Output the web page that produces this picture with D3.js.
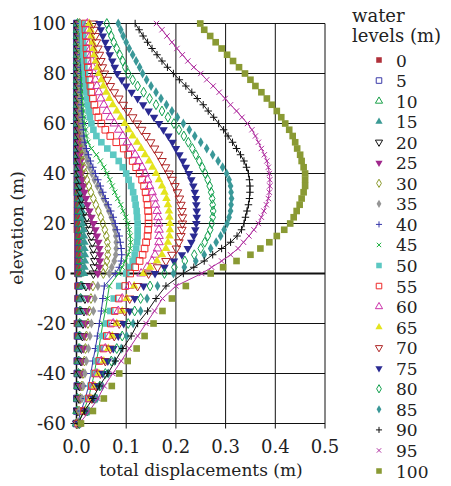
<!DOCTYPE html>
<html>
<head>
<meta charset="utf-8">
<script src="https://cdn.jsdelivr.net/npm/d3@7"></script>
<style>
  body { margin: 0; background: #fff; }
  text { font-family: "DejaVu Serif", serif; fill: #222; }
</style>
</head>
<body>
<div id="chart"></div>
<script>
// elevations (m): above ground every 2.5 m, below ground every 5 m
var elev = [100, 97.5, 95, 92.5, 90, 87.5, 85, 82.5, 80, 77.5,
  75, 72.5, 70, 67.5, 65, 62.5, 60, 57.5, 55, 52.5,
  50, 47.5, 45, 42.5, 40, 37.5, 35, 32.5, 30, 27.5,
  25, 22.5, 20, 17.5, 15, 12.5, 10, 7.5, 5, 2.5, 0,
  -5, -10, -15, -20, -25, -30, -35, -40, -45, -50, -55, -60]

var levels = [0, 5, 10, 15, 20, 25, 30, 35, 40, 45, 50, 55, 60, 65, 70, 75, 80, 85, 90, 95, 100]

// total displacements (m) for each water level, same order as elev
var w0 = [0,0,0,0,0,0,0,0,0,0, 0,0,0,0,0,0,0,0,0,0, 0,0,.001,.001,.001,.001,.001,.001,.001,.001,
  .001,.001,.001,.001,.002,.002,.002,.002,.002,.002,.002,
  .002,.002,.002,.001,.001,.001,.001,.001,.001,0,0,0]
var w5 = [.001,.001,.001,.001,.001,.001,.001,.001,.001,.001, .001,.001,.001,.001,.001,.001,.001,.001,.001,.001,
  .001,.001,.001,.002,.002,.002,.002,.002,.003,.003, .003,.003,.003,.004,.004,.004,.004,.004,.004,.004,.004,
  .005,.004,.004,.004,.003,.003,.002,.002,.002,.001,.001,0]
var w10 = [.002,.002,.002,.002,.002,.002,.002,.002,.002,.002, .002,.002,.002,.002,.002,.002,.002,.003,.003,.003,
  .003,.003,.003,.004,.004,.004,.005,.005,.005,.006, .006,.006,.007,.007,.007,.008,.008,.008,.008,.008,.007,
  .009,.008,.007,.006,.006,.005,.004,.004,.003,.002,.001,0]
var w15 = [.003,.003,.003,.003,.003,.003,.003,.003,.003,.003, .003,.003,.003,.003,.003,.003,.003,.004,.004,.004,
  .004,.004,.005,.005,.006,.006,.007,.008,.009,.01, .011,.012,.013,.014,.015,.016,.016,.017,.017,.016,.015,
  .012,.01,.009,.008,.007,.007,.006,.005,.004,.003,.002,0]
var w20 = [.004,.004,.004,.004,.004,.004,.004,.004,.004,.004, .004,.004,.004,.004,.004,.004,.005,.005,.005,.005,
  .005,.005,.005,.006,.006,.007,.007,.008,.01,.013, .017,.021,.024,.027,.03,.032,.034,.036,.037,.036,.034,
  .019,.017,.015,.013,.012,.01,.009,.007,.006,.005,.003,.001]
var w25 = [.005,.005,.005,.005,.005,.005,.005,.005,.005,.005, .005,.005,.005,.005,.005,.005,.006,.006,.006,.006,
  .007,.007,.008,.009,.01,.012,.014,.016,.019,.022, .026,.03,.034,.038,.041,.044,.046,.047,.047,.046,.043,
  .026,.023,.021,.018,.016,.014,.012,.01,.008,.007,.004,.001]
var w30 = [.006,.006,.006,.006,.006,.006,.006,.006,.006,.006, .006,.006,.006,.006,.007,.007,.007,.008,.008,.009,
  .01,.011,.013,.015,.018,.021,.025,.029,.034,.039, .044,.049,.053,.057,.06,.062,.063,.063,.061,.058,.054,
  .033,.029,.026,.023,.02,.018,.016,.013,.011,.008,.005,.001]
var w35 = [.007,.007,.007,.007,.007,.007,.007,.007,.007,.007, .007,.007,.007,.008,.008,.009,.01,.011,.012,.014,
  .016,.019,.022,.026,.031,.036,.042,.048,.054,.06, .065,.07,.074,.077,.079,.08,.08,.079,.076,.071,.066,
  .043,.037,.034,.03,.027,.024,.02,.017,.014,.011,.006,.002]
var w40 = [.007,.007,.007,.008,.008,.008,.008,.008,.009,.009, .009,.009,.01,.01,.011,.012,.013,.014,.015,.017,
  .02,.024,.028,.033,.038,.043,.048,.053,.058,.064, .069,.074,.078,.082,.086,.088,.09,.091,.09,.086,.078,
  .056,.053,.05,.046,.042,.038,.033,.029,.024,.018,.009,.002]
var w45 = [.008,.008,.008,.009,.009,.009,.009,.01,.01,.01, .011,.011,.012,.013,.014,.015,.016,.018,.02,.023,
  .03,.04,.048,.055,.061,.067,.072,.077,.083,.089, .094,.099,.103,.106,.108,.109,.108,.104,.098,.092,.085,
  .066,.062,.058,.053,.049,.045,.04,.036,.03,.024,.014,.003]
var w50 = [.012,.012,.013,.013,.014,.014,.015,.016,.017,.018, .019,.02,.021,.023,.025,.027,.03,.034,.04,.05,
  .062,.074,.085,.093,.1,.105,.11,.114,.117,.119, .121,.122,.123,.123,.123,.122,.12,.117,.113,.108,.1,
  .086,.075,.068,.06,.053,.047,.04,.034,.028,.022,.013,.003]
var w55 = [.017,.018,.019,.02,.02,.021,.022,.023,.025,.026, .028,.03,.033,.036,.04,.044,.05,.058,.068,.08,
  .095,.104,.113,.12,.127,.132,.136,.139,.141,.143, .144,.145,.145,.144,.143,.14,.137,.133,.127,.118,.108,
  .098,.085,.077,.069,.061,.054,.046,.038,.031,.025,.015,.004]
var w60 = [.022,.024,.026,.027,.028,.029,.031,.033,.035,.038, .041,.045,.049,.055,.061,.068,.076,.085,.093,.102,
  .11,.118,.125,.132,.138,.143,.147,.152,.156,.159, .162,.164,.165,.166,.166,.166,.163,.158,.152,.142,.13,
  .106,.092,.084,.074,.066,.058,.05,.041,.034,.027,.016,.004]
var w65 = [.026,.028,.03,.032,.034,.036,.039,.042,.045,.05, .054,.06,.066,.073,.081,.089,.097,.105,.113,.122,
  .13,.138,.146,.153,.16,.166,.172,.177,.181,.184, .186,.187,.188,.188,.187,.184,.18,.172,.162,.148,.135,
  .116,.101,.092,.081,.072,.064,.055,.045,.037,.029,.017,.005]
var w70 = [.034,.036,.038,.04,.043,.046,.049,.052,.056,.062, .068,.076,.085,.094,.103,.113,.122,.131,.14,.149,
  .157,.165,.172,.179,.186,.192,.198,.203,.207,.21, .212,.213,.213,.212,.21,.206,.201,.192,.18,.163,.145,
  .123,.107,.097,.086,.076,.068,.058,.048,.039,.031,.018,.005]
var w75 = [.046,.049,.053,.058,.063,.067,.072,.077,.082,.091, .1,.111,.123,.134,.145,.156,.166,.175,.185,.193,
  .2,.207,.214,.22,.226,.231,.235,.238,.24,.241, .242,.242,.241,.239,.236,.231,.224,.212,.196,.177,.158,
  .135,.117,.107,.095,.084,.074,.063,.053,.043,.034,.02,.005]
var w80 = [.061,.065,.07,.075,.081,.087,.093,.098,.104,.113, .123,.135,.147,.16,.172,.184,.196,.206,.216,.225,
  .233,.24,.247,.253,.259,.264,.268,.271,.273,.274, .275,.274,.272,.269,.264,.258,.25,.237,.218,.197,.177,
  .148,.129,.117,.104,.092,.081,.07,.058,.047,.037,.022,.006]
var w85 = [.084,.089,.094,.1,.106,.113,.12,.127,.133,.141, .15,.16,.17,.181,.192,.203,.215,.227,.238,.25,
  .262,.274,.285,.294,.302,.307,.31,.311,.312,.311, .31,.307,.303,.297,.29,.281,.27,.257,.24,.217,.195,
  .163,.142,.129,.114,.101,.09,.077,.064,.052,.041,.025,.007]
var w90 = [.118,.126,.134,.143,.152,.162,.172,.183,.195,.207, .22,.232,.243,.255,.265,.276,.286,.296,.305,.314,
  .322,.33,.337,.342,.346,.348,.349,.349,.348,.346, .343,.34,.337,.332,.323,.31,.292,.274,.257,.236,.215,
  .18,.16,.143,.123,.11,.093,.078,.063,.046,.033,.016,.003]
var w95 = [.161,.172,.182,.192,.202,.213,.224,.236,.25,.262, .275,.287,.299,.31,.322,.333,.344,.353,.36,.366,
  .372,.378,.383,.386,.388,.389,.389,.388,.386,.382, .377,.372,.366,.357,.347,.336,.325,.31,.292,.272,.252,
  .2,.173,.157,.14,.123,.106,.09,.073,.056,.043,.026,.006]
var w100 = [.249,.257,.269,.28,.292,.303,.315,.327,.339,.35, .36,.372,.383,.393,.403,.412,.42,.428,.435,.44,
  .444,.45,.453,.457,.46,.46,.46,.457,.453,.449, .443,.437,.43,.418,.403,.388,.37,.35,.322,.295,.27,
  .22,.192,.173,.155,.137,.121,.103,.086,.071,.055,.033,.009]

var seriesVals = [w0, w5, w10, w15, w20, w25, w30, w35, w40, w45, w50,
  w55, w60, w65, w70, w75, w80, w85, w90, w95, w100]

var xTicks = [0, 0.1, 0.2, 0.3, 0.4, 0.5]
var yTicks = [-60, -40, -20, 0, 20, 40, 60, 80, 100]

// marker styles: [shape, colour, filled, rotate, line]
var styles = [
  ["square", "#b0303a", true, 0, false],
  ["square", "#3a3aa8", false, 0, false],
  ["triangle", "#18a048", false, 0, false],
  ["triangle", "#3a9a94", true, 0, false],
  ["triangle", "#111", false, 180, false],
  ["triangle", "#a0288c", true, 180, false],
  ["diamond", "#8c9a2c", false, 0, false],
  ["diamond", "#959595", true, 0, false],
  ["plus", "#3535a8", false, 0, true],
  ["times", "#1cb040", false, 0, true],
  ["square", "#5cc8c2", true, 0, false],
  ["square", "#ee2a2a", false, 0, false],
  ["triangle", "#cc33aa", false, 0, false],
  ["triangle", "#e4e41e", true, 0, false],
  ["triangle", "#b02828", false, 180, false],
  ["triangle", "#2a2a92", true, 180, false],
  ["diamond", "#12a04e", false, 0, false],
  ["diamond", "#3a9898", true, 0, false],
  ["plus", "#111", false, 0, true],
  ["times", "#b030a0", false, 0, true],
  ["square", "#8a9a34", true, 0, false]
]

var W = 451, H = 486
var svg = d3.select("#chart").append("svg").attr("width", W).attr("height", H)

var x = d3.scaleLinear().domain([0, 0.5]).range([76.5, 325])
var y = d3.scaleLinear().domain([-60, 100]).range([423.5, 23.5])

// grid
var grid = svg.append("g")
grid.selectAll(".vg").data(xTicks.slice(1)).enter().append("line")
  .attr("x1", d => x(d)).attr("x2", d => x(d))
  .attr("y1", y(100)).attr("y2", y(-60) + 5)
  .style("stroke", "#111").style("stroke-width", 1)
grid.selectAll(".hg").data(yTicks).enter().append("line")
  .attr("x1", x(0) - 6).attr("x2", x(0.5))
  .attr("y1", d => y(d)).attr("y2", d => y(d))
  .style("stroke", "#111").style("stroke-width", d => d === 0 ? 2 : 1)
grid.append("line")
  .attr("x1", x(0)).attr("x2", x(0))
  .attr("y1", y(100)).attr("y2", y(-60) + 5)
  .style("stroke", "#111").style("stroke-width", 1.5)

function symbolFor(shape) {
  if (shape == "square") return d3.symbolSquare
  if (shape == "triangle") return d3.symbolTriangle
  if (shape == "diamond") return d3.symbolDiamond
  if (shape == "plus") return d3.symbolPlus
  return d3.symbolTimes
}
function sizeFor(shape) {
  if (shape == "square") return 44
  if (shape == "triangle") return 32
  if (shape == "diamond") return 28
  return 20
}

var line = d3.line().x(d => x(d[0])).y(d => y(d[1]))

var plot = svg.append("g")
levels.forEach(function(lv, i) {
  var st = styles[i]
  var pts = seriesVals[i].map((v, j) => [v, elev[j]])
  var g = plot.append("g")
  if (st[4]) {
    g.append("path").attr("d", line(pts))
      .style("fill", "none").style("stroke", st[1]).style("stroke-width", 1)
  }
  var sym = d3.symbol().type(symbolFor(st[0])).size(sizeFor(st[0]))
  g.selectAll("path.m").data(pts).enter().append("path")
    .attr("class", "m")
    .attr("d", sym)
    .attr("transform", d => "translate(" + x(d[0]) + "," + y(d[1]) + ") rotate(" + st[3] + ")")
    .style("fill", st[2] ? st[1] : "none")
    .style("stroke", st[1])
    .style("stroke-width", st[2] ? 0 : 1)
})

// axis labels
svg.selectAll(".yl").data(yTicks).enter().append("text")
  .attr("x", 66).attr("y", d => y(d) + 6.5)
  .attr("text-anchor", "end").style("font-size", "18px")
  .text(d => d)
svg.selectAll(".xl").data(xTicks).enter().append("text")
  .attr("x", d => x(d)).attr("y", 453)
  .attr("text-anchor", "middle").style("font-size", "18px")
  .text(d => d.toFixed(1))
svg.append("text").attr("x", 201).attr("y", 476)
  .attr("text-anchor", "middle").style("font-size", "17px")
  .text("total displacements (m)")
svg.append("text")
  .attr("transform", "translate(23,228) rotate(-90)")
  .attr("text-anchor", "middle").style("font-size", "17px")
  .text("elevation (m)")

// legend
var leg = svg.append("g")
leg.append("text").attr("x", 352).attr("y", 22).style("font-size", "18px").text("water")
leg.append("text").attr("x", 352).attr("y", 42).style("font-size", "18px").text("levels (m)")
levels.forEach(function(lv, i) {
  var st = styles[i]
  var cy = 60 + i * 20.55
  var sym = d3.symbol().type(symbolFor(st[0])).size(sizeFor(st[0]) * 0.7)
  leg.append("path").attr("d", sym)
    .attr("transform", "translate(379," + cy + ") rotate(" + st[3] + ")")
    .style("fill", st[2] ? st[1] : "none")
    .style("stroke", st[1]).style("stroke-width", st[2] ? 0 : 1)
  leg.append("text").attr("x", 396).attr("y", cy + 6.5)
    .style("font-size", "17px").text(lv)
})
</script>
</body>
</html>
